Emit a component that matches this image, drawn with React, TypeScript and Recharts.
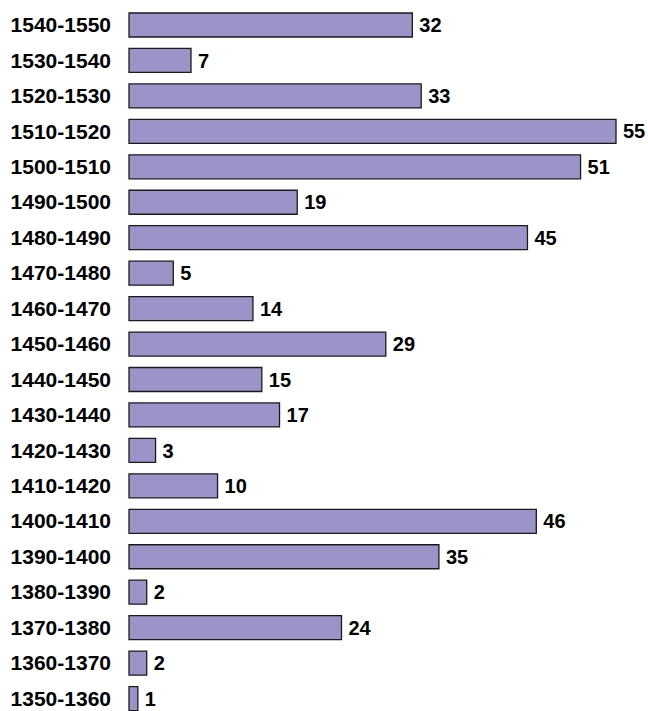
import { BarChart, Bar, XAxis, YAxis, LabelList } from "recharts";

// decades, top to bottom as drawn
const decades = [
  "1540-1550",
  "1530-1540",
  "1520-1530",
  "1510-1520",
  "1500-1510",
  "1490-1500",
  "1480-1490",
  "1470-1480",
  "1460-1470",
  "1450-1460",
  "1440-1450",
  "1430-1440",
  "1420-1430",
  "1410-1420",
  "1400-1410",
  "1390-1400",
  "1380-1390",
  "1370-1380",
  "1360-1370",
  "1350-1360",
];

const counts = [32, 7, 33, 55, 51, 19, 45, 5, 14, 29, 15, 17, 3, 10, 46, 35, 2, 24, 2, 1];

const chartData = decades.map((d, i) => ({ decade: d, count: counts[i] }));

const font = "'Liberation Sans', Arial, sans-serif";

export default function App() {
  return (
    <div style={{ position: "absolute", left: 0, top: 0, width: 648, height: 711, overflow: "hidden", background: "#fff" }}>
      <BarChart
        width={648}
        height={720}
        data={chartData}
        layout="vertical"
        margin={{ top: 7, right: 32, left: 0, bottom: 4 }}
      >
        <XAxis type="number" hide domain={[0, "dataMax"]} />
        <YAxis
          type="category"
          dataKey="decade"
          width={129}
          axisLine={false}
          tickLine={false}
          tickSize={0}
          tickMargin={18}
          interval={0}
          tick={{ fill: "#000", fontSize: 21, fontWeight: "bold", fontFamily: font }}
        />
        <Bar dataKey="count" fill="#9b94c9" stroke="#1a1a1a" strokeWidth={1.3} barSize={24} isAnimationActive={false}>
          <LabelList
            dataKey="count"
            position="right"
            offset={7}
            fill="#000"
            fontSize={20}
            fontWeight="bold"
            fontFamily={font}
          />
        </Bar>
      </BarChart>
    </div>
  );
}
